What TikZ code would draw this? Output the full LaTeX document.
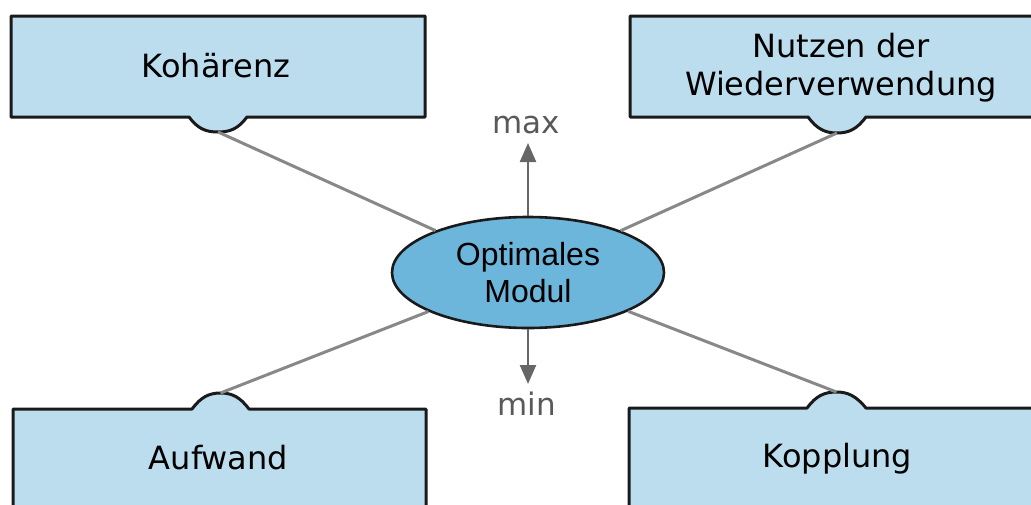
\documentclass[tikz,border=0pt]{standalone}
\usepackage{fontspec}
\setmainfont{DejaVu Sans}
\newfontfamily\ellfont{Liberation Sans}
\usetikzlibrary{arrows.meta,shapes.geometric}

\definecolor{boxfill}{HTML}{BCDDEE}
\definecolor{ellfill}{HTML}{6DB6DB}
\definecolor{edgeblack}{HTML}{1A1A1A}
\definecolor{linkgray}{HTML}{888888}
\definecolor{arrgray}{HTML}{666666}
\definecolor{lblgray}{HTML}{595959}

\tikzset{
  tabbox/.style={fill=boxfill, draw=edgeblack, line width=3pt, line join=round},
  boxtext/.style={anchor=base, inner sep=0pt, align=center,
    font=\fontsize{32}{38}\selectfont, text=black},
  centre/.style={ellipse, draw=edgeblack, line width=2.6pt, fill=ellfill,
    minimum width=272pt, minimum height=111pt, inner sep=0pt, align=center,
    font=\ellfont\fontsize{32}{37}\selectfont},
  link/.style={draw=linkgray, line width=3pt},
  dirarrow/.style={draw=arrgray, line width=2.4pt,
    -{Triangle[width=16pt,length=19pt]}},
  dirlabel/.style={anchor=base, inner sep=0pt, text=lblgray,
    font=\fontsize{31}{34}\selectfont}
}

\begin{document}
\begin{tikzpicture}[x=1pt, y=-1pt]
\useasboundingbox (0,0) rectangle (1031,504);
\clip (0,0) rectangle (1031,504);

% upper boxes, tab hanging below
\path[tabbox] (11,16) -- (425,16) -- (425,117) -- (247,117)
  .. controls (238,129) and (230,132) .. (218,132)
  .. controls (206,132) and (198,129) .. (189,117) -- (11,117) -- cycle;
\coordinate (kohtab) at (218,132);
\node[boxtext] (koh) at (216,77) {Kohärenz};

\path[tabbox] (630,16) -- (1050,16) -- (1050,117) -- (866,117)
  .. controls (857,129) and (849,133) .. (837,133)
  .. controls (825,133) and (817,129) .. (808,117) -- (630,117) -- cycle;
\coordinate (nutztab) at (837,133);
% the base anchor of a two-line node sits on its last line
\node[boxtext] (nutz) at (841,95) {Nutzen der\\Wiederverwendung};

% lower boxes, tab standing on top
\path[tabbox] (13,530) -- (13,409) -- (192,409)
  .. controls (201,397) and (209,393) .. (220.5,393)
  .. controls (232,393) and (240,397) .. (249,409) -- (426,409) -- (426,530) -- cycle;
\coordinate (aufwtab) at (220.5,393);
\node[boxtext] (aufw) at (218.5,469) {Aufwand};

\path[tabbox] (629,530) -- (629,408) -- (807,408)
  .. controls (816,396) and (824,392) .. (836.5,392)
  .. controls (848,392) and (856,396) .. (866,408) -- (1050,408) -- (1050,530) -- cycle;
\coordinate (kopptab) at (836.5,392);
\node[boxtext] (kopp) at (837.5,467) {Kopplung};

% central ellipse
\node[centre] (om) at (528,272.5) {Optimales\\Modul};

% connectors from the tabs to the ellipse
\draw[link] (kohtab) -- (om);
\draw[link] (nutztab) -- (om);
\draw[link] (aufwtab) -- (om);
\draw[link] (kopptab) -- (om);

% max / min arrows
\coordinate (maxtip) at (528,143);
\coordinate (mintip) at (528,384);
\draw[dirarrow] (om.north) -- (maxtip);
\draw[dirarrow] (om.south) -- (mintip);
\node[dirlabel] (maxlbl) at (526,133) {max};
\node[dirlabel] (minlbl) at (526.5,415) {min};
\end{tikzpicture}
\end{document}
